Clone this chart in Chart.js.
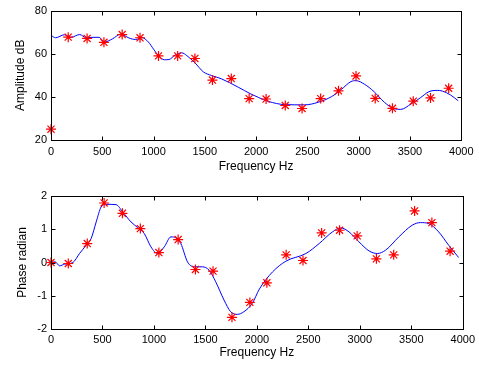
<!DOCTYPE html>
<html><head><meta charset="utf-8">
<script src="https://cdn.jsdelivr.net/npm/chart.js@4"></script>
<style>
html,body{margin:0;padding:0;background:#fff;width:479px;height:367px;overflow:hidden}
.box{position:absolute;left:0;width:479px}
</style></head><body>
<div class="box" style="top:0;height:183px"><canvas id="c1"></canvas></div>
<div class="box" style="top:183px;height:184px"><canvas id="c2"></canvas></div>
<script>
// Harmonic measurements (red stars)
const harmonicFreqs = [0,168,352,516,694,868,1048,1235,1403,1574,1758,1932,2097,2284,2448,2629,2803,2974,3161,3329,3532,3700,3877];
const harmonicAmpDb = [25,67.7,67.1,65.3,68.9,67.4,59,59,57.8,47.8,48.5,39.2,39,36,34.6,39.2,42.8,49.7,39.3,34.7,38,39.5,44];
const harmonicPhase = [0,-0.03,0.57,1.79,1.48,1.02,0.3,0.69,-0.21,-0.26,-1.65,-1.2,-0.61,0.23,0.06,0.89,0.97,0.8,0.11,0.23,1.55,1.2,0.34];

// Smooth envelope (blue line)
const envFreqs = [0,45,130,195,280,340,420,470,516,600,680,760,825,885,950,1000,1048,1106,1150,1210,1275,1325,1403,1485,1565,1660,1825,1950,2020,2120,2280,2475,2605,2735,2830,2925,2975,3055,3150,3250,3345,3410,3510,3605,3685,3765,3815,3895,3970];
const envAmpDb = [68.5,67.4,68.8,67.6,68.9,67.5,67.6,67.6,65.4,66.9,69.1,67.3,66.6,67.5,65.4,62.1,59.1,57.2,57.3,59.4,60.4,59.1,55.8,51.6,49.9,48.4,44.5,41.3,39.8,37.9,36.4,36.3,37.5,40.1,43.4,47.1,47.5,45.9,42.4,37.5,34.5,34.2,36.7,39.7,42.4,43.0,42.7,40.9,38.2];

const phaseFreqs = [0,40,84,132,213,277,342,390,439,487,535,632,697,777,842,906,971,1035,1100,1165,1213,1261,1326,1390,1471,1535,1600,1681,1745,1810,1874,1955,2024,2153,2282,2476,2605,2734,2815,2895,2992,3089,3169,3250,3379,3508,3589,3669,3766,3863,3960];
const phaseCurve = [0,0.02,-0.1,-0.05,0,0.27,0.52,0.72,1.22,1.67,1.75,1.74,1.52,1.22,1.05,0.87,0.47,0.27,0.47,0.77,0.74,0.57,0.02,-0.13,-0.13,-0.23,-0.58,-1.13,-1.48,-1.56,-1.48,-1.23,-0.8,-0.28,0.04,0.27,0.57,0.92,1.04,0.92,0.62,0.35,0.27,0.37,0.77,1.12,1.2,1.17,0.92,0.52,0.15];

const freqTicks = [0,500,1000,1500,2000,2500,3000,3500,4000];
const ampTicks = [20,40,60,80];
const phaseTicks = [-2,-1,0,1,2];

const FONT = "'Liberation Sans', Arial, sans-serif";

const boxPlugin = {
  id: 'matlabBox',
  afterDraw(chart) {
    const {ctx, chartArea: a, scales: {x, y}} = chart;
    ctx.save();
    ctx.strokeStyle = '#000';
    ctx.lineWidth = 1;
    const L = Math.round(a.left) + 0.5, R = Math.round(a.right) + 0.5;
    const T = Math.round(a.top) + 0.5, B = Math.round(a.bottom) + 0.5;
    ctx.strokeRect(L, T, R - L, B - T);
    ctx.beginPath();
    const tl = 4;
    x.ticks.forEach(t => {
      const px = Math.round(x.getPixelForValue(t.value)) + 0.5;
      ctx.moveTo(px, B); ctx.lineTo(px, B - tl);
      ctx.moveTo(px, T); ctx.lineTo(px, T + tl);
    });
    y.ticks.forEach(t => {
      const py = Math.round(y.getPixelForValue(t.value)) + 0.5;
      ctx.moveTo(L, py); ctx.lineTo(L + tl, py);
      ctx.moveTo(R, py); ctx.lineTo(R - tl, py);
    });
    ctx.stroke();
    ctx.restore();
  }
};

function pts(xs, ys) { return xs.map((v, i) => ({x: v, y: ys[i]})); }

function makeChart(id, cfg) {
  return new Chart(document.getElementById(id), {
    type: 'scatter',
    data: {
      datasets: [
        {
          data: pts(harmonicFreqs, cfg.marks),
          pointStyle: 'star',
          pointRadius: 5,
          pointBorderWidth: 1.2,
          borderColor: '#ff0000',
          backgroundColor: '#ff0000',
          showLine: false,
          clip: false
        },
        {
          data: pts(cfg.lineX, cfg.lineY),
          showLine: true,
          pointRadius: 0,
          borderColor: '#0000ff',
          borderWidth: 1,
          cubicInterpolationMode: 'monotone'
        }
      ]
    },
    options: {
      responsive: true,
      maintainAspectRatio: false,
      animation: false,
      devicePixelRatio: 1,
      layout: {padding: {top: cfg.top, right: 15, left: 0, bottom: 0}},
      plugins: {legend: {display: false}, tooltip: {enabled: false}},
      scales: {
        x: {
          type: 'linear', min: 0, max: 4000,
          afterBuildTicks: s => { s.ticks = freqTicks.map(v => ({value: v})); },
          afterFit: s => { s.height = cfg.xh; },
          grid: {display: false, drawTicks: false},
          border: {display: false},
          ticks: {color: '#000', font: {family: FONT, size: 11}, padding: cfg.xtk, maxRotation: 0, autoSkip: false,
                  callback: v => String(v)},
          title: {display: true, text: 'Frequency Hz', color: '#000', font: {family: FONT, size: 12}, padding: {top: 0, bottom: cfg.xtp}}
        },
        y: {
          type: 'linear', min: cfg.ymin, max: cfg.ymax,
          afterBuildTicks: s => { s.ticks = cfg.yticks.map(v => ({value: v})); },
          afterFit: s => { s.width = 51; },
          grid: {display: false, drawTicks: false},
          border: {display: false},
          ticks: {color: '#000', font: {family: FONT, size: 11}, padding: 4, autoSkip: false,
                  callback: v => String(v)},
          title: {display: true, text: cfg.ytitle, color: '#000', font: {family: FONT, size: 12}, padding: {top: cfg.ytp, bottom: 0}}
        }
      }
    },
    plugins: [boxPlugin]
  });
}

makeChart('c1', {marks: harmonicAmpDb, lineX: envFreqs, lineY: envAmpDb, top: 7, xh: 43, xtp: 8.8, xtk: 5.5,
  ymin: 20, ymax: 80, yticks: ampTicks, ytitle: 'Amplitude dB', ytp: 13.3});
makeChart('c2', {marks: harmonicPhase, lineX: phaseFreqs, lineY: phaseCurve, top: 13, xh: 38, xtp: 6.8, xtk: 4,
  ymin: -2, ymax: 2, yticks: phaseTicks, ytitle: 'Phase radian', ytp: 15.8});
</script>
</body></html>
